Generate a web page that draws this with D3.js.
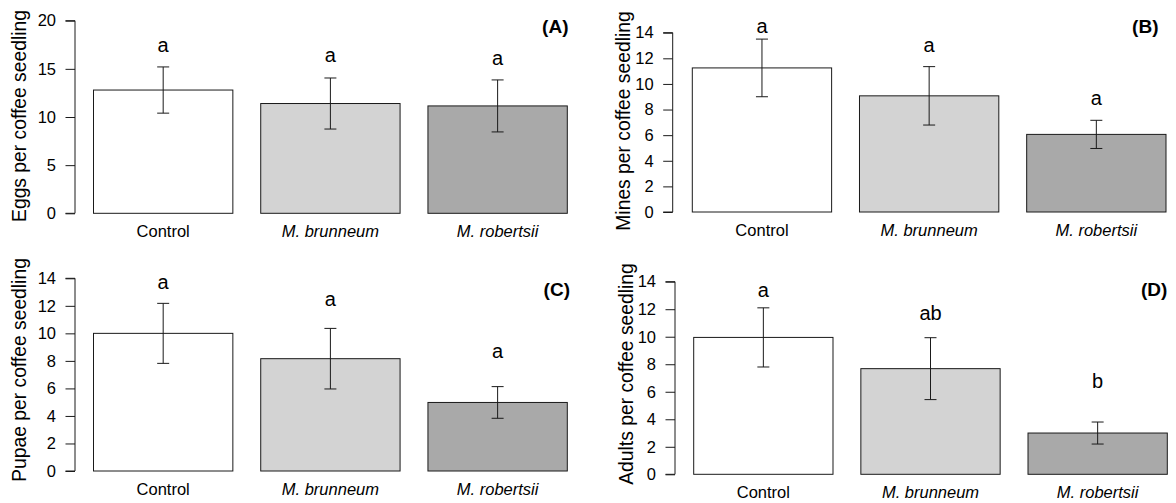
<!DOCTYPE html>
<html>
<head>
<meta charset="utf-8">
<script src="https://cdn.jsdelivr.net/npm/d3@7/dist/d3.min.js"></script>
<style>
  html, body { margin: 0; padding: 0; background: #fff; }
  svg { display: block; font-family: "Liberation Sans", Arial, sans-serif; }
</style>
</head>
<body>
<svg id="chart" width="1176" height="503"></svg>
<script>
// ---- Data ----
const categories = ["Control", "M. brunneum", "M. robertsii"];
const italicCats = [false, true, true];

const eggsMean = [12.8, 11.4, 11.15];
const eggsSE = [2.4, 2.65, 2.7];
const eggsLetters = ["a", "a", "a"];
const eggsLetterY = [16.8, 15.75, 15.4];
const eggsTicks = [0, 5, 10, 15, 20];

const minesMean = [11.25, 9.07, 6.06];
const minesSE = [2.25, 2.28, 1.1];
const minesLetters = ["a", "a", "a"];
const minesLetterY = [14.0, 12.47, 8.35];
const minesTicks = [0, 2, 4, 6, 8, 10, 12, 14];

const pupaeMean = [10.0, 8.16, 4.98];
const pupaeSE = [2.18, 2.2, 1.15];
const pupaeLetters = ["a", "a", "a"];
const pupaeLetterY = [13.2, 12.0, 8.2];
const pupaeTicks = [0, 2, 4, 6, 8, 10, 12, 14];

const adultsMean = [9.95, 7.68, 3.0];
const adultsSE = [2.15, 2.25, 0.8];
const adultsLetters = ["a", "ab", "b"];
const adultsLetterY = [12.9, 11.22, 6.25];
const adultsTicks = [0, 2, 4, 6, 8, 10, 12, 14];

const panelTags = ["(A)", "(B)", "(C)", "(D)"];
const yTitles = ["Eggs per coffee seedling", "Mines per coffee seedling",
                 "Pupae per coffee seedling", "Adults per coffee seedling"];
const barColors = ["#ffffff", "#d3d3d3", "#a9a9a9"];

// ---- Layout (pixel geometry) ----
const layout = [
  { axisX: 75,    y0: 213.3, y1: 20.7,  xL: 93.5,  xR: 567.3, titleX: 26,    titleY: 116, tagX: 568.5, tagY: 32.5 },
  { axisX: 672.7, y0: 212,   y1: 32.7,  xL: 692.3, xR: 1166,  titleX: 629.5, titleY: 121, tagX: 1158.5, tagY: 33 },
  { axisX: 75,    y0: 471,   y1: 278.3, xL: 93.5,  xR: 567.3, titleX: 26,    titleY: 370, tagX: 570,   tagY: 295.5 },
  { axisX: 675,   y0: 474.3, y1: 281.7, xL: 693.7, xR: 1167.3, titleX: 632.5, titleY: 374, tagX: 1167.3, tagY: 296 }
];

const panels = [
  { mean: eggsMean, se: eggsSE, letters: eggsLetters, letterY: eggsLetterY, ticks: eggsTicks },
  { mean: minesMean, se: minesSE, letters: minesLetters, letterY: minesLetterY, ticks: minesTicks },
  { mean: pupaeMean, se: pupaeSE, letters: pupaeLetters, letterY: pupaeLetterY, ticks: pupaeTicks },
  { mean: adultsMean, se: adultsSE, letters: adultsLetters, letterY: adultsLetterY, ticks: adultsTicks }
];

const svg = d3.select("#chart");
const ink = "#1a1a1a";

panels.forEach((p, i) => {
  const L = layout[i];
  const g = svg.append("g");
  const yMax = d3.max(p.ticks);
  const y = d3.scaleLinear().domain([0, yMax]).range([L.y0, L.y1]);
  const x = d3.scaleBand().domain(categories).range([L.xL, L.xR])
    .paddingInner(0.2 / 1.2).paddingOuter(0);

  // y axis
  const axis = d3.axisLeft(y).tickValues(p.ticks).tickSize(9.5).tickPadding(9.5)
    .tickFormat(d3.format("d"));
  const ag = g.append("g").attr("transform", `translate(${L.axisX},0)`).call(axis);
  ag.select(".domain").attr("d", `M-9.5,${y(0)}H0V${y(yMax)}H-9.5`)
    .attr("stroke", ink).attr("stroke-width", 1).attr("fill", "none");
  ag.selectAll(".tick line").attr("stroke", ink).attr("stroke-width", 1);
  ag.selectAll(".tick text").attr("fill", "#000").style("font-size", "16.5px")
    .style("font-family", "'Liberation Sans', Arial, sans-serif");

  // y title
  g.append("text")
    .attr("transform", `translate(${L.titleX},${L.titleY}) rotate(-90)`)
    .attr("text-anchor", "middle")
    .style("font-size", "19.3px")
    .attr("fill", "#000")
    .text(yTitles[i]);

  // bars
  g.selectAll("rect.bar").data(categories).join("rect")
    .attr("class", "bar")
    .attr("x", d => x(d))
    .attr("width", x.bandwidth())
    .attr("y", (d, j) => y(p.mean[j]))
    .attr("height", (d, j) => y(0) - y(p.mean[j]))
    .attr("fill", (d, j) => barColors[j])
    .attr("stroke", ink).attr("stroke-width", 1);

  // error bars
  const cap = 6;
  categories.forEach((c, j) => {
    const cx = x(c) + x.bandwidth() / 2;
    const top = y(p.mean[j] + p.se[j]);
    const bot = y(p.mean[j] - p.se[j]);
    g.append("path")
      .attr("d", `M${cx},${top}V${bot}M${cx - cap},${top}H${cx + cap}M${cx - cap},${bot}H${cx + cap}`)
      .attr("stroke", ink).attr("stroke-width", 1).attr("fill", "none");
    // significance letters
    g.append("text")
      .attr("x", cx).attr("y", y(p.letterY[j]))
      .attr("text-anchor", "middle")
      .style("font-size", "20px")
      .attr("fill", "#000")
      .text(p.letters[j]);
    // category labels
    g.append("text")
      .attr("x", cx).attr("y", y(0) + 24)
      .attr("text-anchor", "middle")
      .style("font-size", "16.5px")
      .style("font-style", italicCats[j] ? "italic" : "normal")
      .attr("fill", "#000")
      .text(c);
  });

  // panel tag
  g.append("text")
    .attr("x", L.tagX).attr("y", L.tagY)
    .attr("text-anchor", "end")
    .style("font-size", "19px")
    .style("font-weight", "bold")
    .attr("fill", "#000")
    .text(panelTags[i]);
});
</script>
</body>
</html>
